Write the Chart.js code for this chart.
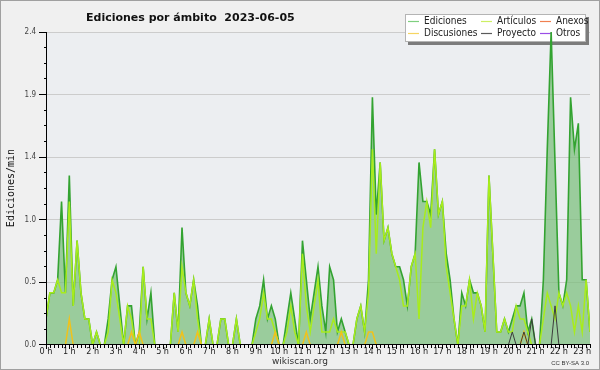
<!DOCTYPE html>
<html lang="es">
<head>
<meta charset="utf-8">
<title>Ediciones por ámbito 2023-06-05</title>
<script src="https://cdn.jsdelivr.net/npm/chart.js@4.4.0/dist/chart.umd.min.js"></script>
<style>
  html, body { margin: 0; padding: 0; background: #f0f0f0; }
  #wrap { width: 600px; height: 370px; }
</style>
</head>
<body>
<div id="wrap"><canvas id="chart" width="600" height="370"></canvas></div>
<script>
// Edits per minute, one value every 10 minutes (00:00 .. 23:20)
const ediciones = [
    0.2, 0.4, 0.4, 0.5, 1.1, 0.4, 1.3, 0.3, 0.8, 0.4, 0.2, 0.2,
    0, 0.1, 0, 0, 0.2, 0.5, 0.6, 0.3, 0, 0.3, 0.3, 0,
    0.1, 0.6, 0.2, 0.4, 0, 0, 0, 0, 0, 0.4, 0.1, 0.9,
    0.4, 0.3, 0.5, 0.3, 0, 0, 0.2, 0, 0, 0.2, 0.2, 0,
    0, 0.2, 0, 0, 0, 0, 0.2, 0.3, 0.5, 0.2, 0.3, 0.2,
    0, 0, 0.2, 0.4, 0.2, 0, 0.8, 0.5, 0.2, 0.4, 0.6, 0.3,
    0.1, 0.6, 0.5, 0.1, 0.2, 0.1, 0, 0, 0.2, 0.3, 0.1, 0.5,
    1.9, 1.0, 1.4, 0.8, 0.9, 0.7, 0.6, 0.6, 0.5, 0.3, 0.6, 0.7,
    1.4, 1.1, 1.1, 1.0, 1.5, 1.0, 1.1, 0.7, 0.5, 0.2, 0, 0.4,
    0.3, 0.5, 0.4, 0.4, 0.3, 0.1, 1.3, 0.7, 0.1, 0.1, 0.2, 0.1,
    0.2, 0.3, 0.3, 0.4, 0.1, 0.2, 0, 0, 0.5, 1.5, 2.4, 1.4,
    0.4, 0.3, 0.5, 1.9, 1.5, 1.7, 0.5, 0.5, 0.1
];
const articulos = [
    0.2, 0.4, 0.4, 0.5, 0.4, 0.4, 1.1, 0.3, 0.8, 0.4, 0.2, 0.2,
    0, 0.1, 0, 0, 0.1, 0.5, 0.4, 0.2, 0, 0.3, 0.2, 0,
    0, 0.6, 0.2, 0.2, 0, 0, 0, 0, 0, 0.4, 0.1, 0.6,
    0.4, 0.3, 0.5, 0.2, 0, 0, 0.2, 0, 0, 0.2, 0.2, 0,
    0, 0.2, 0, 0, 0, 0, 0.1, 0.2, 0.4, 0.2, 0.2, 0.1,
    0, 0, 0.1, 0.3, 0.1, 0, 0.7, 0.3, 0.1, 0.3, 0.5, 0.1,
    0.1, 0.1, 0.2, 0.1, 0.1, 0.1, 0, 0, 0.2, 0.3, 0.1, 0.4,
    1.5, 0.7, 1.4, 0.8, 0.9, 0.7, 0.6, 0.5, 0.3, 0.3, 0.6, 0.7,
    0.2, 0.9, 1.1, 0.9, 1.5, 1.0, 1.1, 0.6, 0.4, 0.2, 0, 0.3,
    0.3, 0.5, 0.2, 0.4, 0.3, 0.1, 1.3, 0.7, 0.1, 0.1, 0.2, 0.1,
    0.1, 0.3, 0.2, 0.2, 0.1, 0, 0, 0, 0.2, 0.4, 0.3, 0.2,
    0.4, 0.3, 0.4, 0.3, 0.1, 0.3, 0.1, 0.5, 0.1
];
const anexos = [
    0, 0, 0, 0, 0, 0, 0, 0, 0, 0, 0, 0,
    0, 0, 0, 0, 0, 0, 0, 0, 0, 0, 0, 0,
    0, 0, 0, 0, 0, 0, 0, 0, 0, 0, 0, 0,
    0, 0, 0, 0, 0, 0, 0, 0, 0, 0, 0, 0,
    0, 0, 0, 0, 0, 0, 0, 0, 0, 0, 0, 0,
    0, 0, 0, 0, 0, 0, 0, 0, 0, 0, 0, 0,
    0, 0, 0, 0, 0, 0, 0, 0, 0, 0, 0, 0,
    0, 0, 0, 0, 0, 0, 0, 0, 0, 0, 0, 0,
    0, 0, 0, 0, 0, 0, 0, 0, 0, 0, 0, 0,
    0, 0, 0, 0, 0, 0, 0, 0, 0, 0, 0, 0,
    0, 0, 0, 0, 0, 0, 0, 0, 0, 0, 0, 0,
    0, 0, 0, 0, 0, 0, 0, 0, 0
];
const discusiones = [
    0, 0, 0, 0, 0, 0, 0.2, 0, 0, 0, 0, 0,
    0, 0, 0, 0, 0, 0, 0, 0, 0, 0, 0.1, 0,
    0.1, 0, 0, 0, 0, 0, 0, 0, 0, 0, 0, 0.1,
    0, 0, 0, 0.1, 0, 0, 0, 0, 0, 0, 0, 0,
    0, 0, 0, 0, 0, 0, 0, 0, 0, 0, 0, 0.1,
    0, 0, 0, 0, 0, 0, 0, 0.1, 0, 0, 0, 0,
    0, 0, 0, 0, 0.1, 0, 0, 0, 0, 0, 0, 0.1,
    0.1, 0, 0, 0, 0, 0, 0, 0, 0, 0, 0, 0,
    0, 0, 0, 0, 0, 0, 0, 0, 0, 0, 0, 0,
    0, 0, 0, 0, 0, 0, 0, 0, 0, 0, 0, 0,
    0, 0, 0, 0.1, 0, 0, 0, 0, 0, 0, 0, 0,
    0, 0, 0, 0, 0, 0, 0, 0, 0
];
const proyecto = [
    0, 0, 0, 0, 0, 0, 0, 0, 0, 0, 0, 0,
    0, 0, 0, 0, 0, 0, 0, 0, 0, 0, 0, 0,
    0, 0, 0, 0, 0, 0, 0, 0, 0, 0, 0, 0,
    0, 0, 0, 0, 0, 0, 0, 0, 0, 0, 0, 0,
    0, 0, 0, 0, 0, 0, 0, 0, 0, 0, 0, 0,
    0, 0, 0, 0, 0, 0, 0, 0, 0, 0, 0, 0,
    0, 0, 0, 0, 0, 0, 0, 0, 0, 0, 0, 0,
    0, 0, 0, 0, 0, 0, 0, 0, 0, 0, 0, 0,
    0, 0, 0, 0, 0, 0, 0, 0, 0, 0, 0, 0,
    0, 0, 0, 0, 0, 0, 0, 0, 0, 0, 0, 0,
    0.1, 0, 0, 0.1, 0, 0.2, 0, 0, 0, 0, 0, 0.3,
    0, 0, 0, 0, 0, 0, 0, 0, 0
];
const otros = [
    0, 0, 0, 0, 0, 0, 0, 0, 0, 0, 0, 0,
    0, 0, 0, 0, 0, 0, 0, 0, 0, 0, 0, 0,
    0, 0, 0, 0, 0, 0, 0, 0, 0, 0, 0, 0,
    0, 0, 0, 0, 0, 0, 0, 0, 0, 0, 0, 0,
    0, 0, 0, 0, 0, 0, 0, 0, 0, 0, 0, 0,
    0, 0, 0, 0, 0, 0, 0, 0, 0, 0, 0, 0,
    0, 0, 0, 0, 0, 0, 0, 0, 0, 0, 0, 0,
    0, 0, 0, 0, 0, 0, 0, 0, 0, 0, 0, 0,
    0, 0, 0, 0, 0, 0, 0, 0, 0, 0, 0, 0,
    0, 0, 0, 0, 0, 0, 0, 0, 0, 0, 0, 0,
    0, 0, 0, 0, 0, 0, 0, 0, 0, 0, 0, 0,
    0, 0, 0, 0, 0, 0, 0, 0, 0
];

// Axis labels
const hourLabels = [
    '0 h', '1 h', '2 h', '3 h', '4 h', '5 h', '6 h', '7 h', '8 h', '9 h', '10 h', '11 h',
    '12 h', '13 h', '14 h', '15 h', '16 h', '17 h', '18 h', '19 h', '20 h', '21 h', '22 h', '23 h'
];
const yTickLabels = ['0.0', '0.5', '1.0', '1.4', '1.9', '2.4'];

const chartTitle = 'Ediciones por ámbito  2023-06-05';
const yTitle = 'Ediciones/min';
const slotMinutes = 10;
const lastMinute = 1400;

// Turn a series into {x: minute, y: value} points
function toPoints(values) {
    return values.map((v, i) => ({ x: i * slotMinutes, y: v }));
}

// Background, plot area and frame
const backdrop = {
    id: 'backdrop',
    beforeDraw(chart) {
        const { ctx, chartArea: a } = chart;
        ctx.save();
        ctx.fillStyle = '#f0f0f0';
        ctx.fillRect(0, 0, chart.width, chart.height);
        ctx.fillStyle = '#eceef1';
        ctx.fillRect(a.left, a.top, a.right - a.left, a.bottom - a.top);
        ctx.strokeStyle = '#a0a0a0';
        ctx.lineWidth = 1;
        ctx.strokeRect(0.5, 0.5, chart.width - 1, chart.height - 1);
        ctx.restore();
    }
};

// Boxed legend, 3 columns x 2 rows, drawn under the data
const legendBox = {
    id: 'legendBox',
    beforeDatasetsDraw(chart) {
        const ctx = chart.ctx;
        const bx = 405, by = 14, bw = 181, bh = 28;
        ctx.save();
        ctx.fillStyle = '#7c7c7c';
        ctx.fillRect(bx + 3, by + 3, bw, bh);
        ctx.fillStyle = '#ffffff';
        ctx.fillRect(bx, by, bw, bh);
        ctx.strokeStyle = '#b4b4b4';
        ctx.lineWidth = 1;
        ctx.strokeRect(bx + 0.5, by + 0.5, bw - 1, bh - 1);
        ctx.font = '10px "DejaVu Sans Condensed", "Liberation Sans", sans-serif';
        ctx.textBaseline = 'middle';
        const colX = [408, 481, 540];
        const rowY = [21.5, 33.5];
        chart.data.datasets.forEach((ds, k) => {
            const cx = colX[k % 3];
            const cy = rowY[Math.floor(k / 3)];
            ctx.strokeStyle = ds.legendColor;
            ctx.lineWidth = 1.2;
            ctx.beginPath();
            ctx.moveTo(cx, cy);
            ctx.lineTo(cx + 11, cy);
            ctx.stroke();
            ctx.fillStyle = '#222222';
            ctx.fillText(ds.label, cx + 16, cy);
        });
        ctx.restore();
    }
};

// Axis lines and tick marks, drawn over the data
const axisTicks = {
    id: 'axisTicks',
    afterDatasetsDraw(chart) {
        const { ctx, chartArea: a, scales: { x, y } } = chart;
        ctx.save();
        ctx.strokeStyle = '#000000';
        ctx.lineWidth = 1;
        ctx.beginPath();
        ctx.moveTo(a.left + 0.5, a.top);
        ctx.lineTo(a.left + 0.5, a.bottom);
        ctx.moveTo(a.left, a.bottom - 0.5);
        ctx.lineTo(a.right, a.bottom - 0.5);
        y.ticks.forEach((t, i) => {
            const py = i === 0 ? a.bottom - 0.5 : Math.round(y.getPixelForValue(t.value) - 0.5) + 0.5;
            const len = i % 4 === 0 ? 8 : 3;
            ctx.moveTo(a.left + 1 - len, py);
            ctx.lineTo(a.left + 1, py);
        });
        x.ticks.forEach((t, i) => {
            const px = Math.round(x.getPixelForValue(t.value)) + 0.5;
            const len = i % 6 === 0 ? 4 : 3;
            ctx.moveTo(px, a.bottom - 1);
            ctx.lineTo(px, a.bottom + len);
        });
        ctx.stroke();
        ctx.restore();
    }
};

// Title, axis title and footer texts
const captions = {
    id: 'captions',
    afterDraw(chart) {
        const ctx = chart.ctx;
        ctx.save();
        ctx.fillStyle = '#111111';
        ctx.font = 'bold 11px "DejaVu Sans", sans-serif';
        ctx.textAlign = 'left';
        ctx.textBaseline = 'alphabetic';
        ctx.fillText(chartTitle, 86, 21);

        ctx.font = '9px "DejaVu Sans", sans-serif';
        ctx.fillStyle = '#333333';
        ctx.textAlign = 'center';
        ctx.fillText('wikiscan.org', 300, 364);

        ctx.font = '6px "Liberation Sans", sans-serif';
        ctx.textAlign = 'right';
        ctx.fillText('CC BY-SA 3.0', 589, 365);

        ctx.translate(11, 188);
        ctx.rotate(-Math.PI / 2);
        ctx.font = '10px "DejaVu Sans Mono", monospace';
        ctx.fillStyle = '#111111';
        ctx.textAlign = 'center';
        ctx.textBaseline = 'middle';
        ctx.fillText(yTitle, 0, 0);
        ctx.restore();
    }
};

function initializeChart() {
    const ctx = document.getElementById('chart').getContext('2d');

    return new Chart(ctx, {
        type: 'line',
        data: {
            datasets: [
                {
                    label: 'Ediciones',
                    data: toPoints(ediciones),
                    borderColor: '#33a331',
                    backgroundColor: 'rgba(120, 190, 120, 0.7)',
                    legendColor: '#7fcf7f',
                    borderWidth: 1.6,
                    fill: 'origin',
                    order: 6
                },
                {
                    label: 'Artículos',
                    data: toPoints(articulos),
                    borderColor: '#a8ec1c',
                    legendColor: '#cdef63',
                    borderWidth: 1.5,
                    fill: false,
                    order: 5
                },
                {
                    label: 'Anexos',
                    data: toPoints(anexos),
                    borderColor: '#f07a48',
                    legendColor: '#f08050',
                    borderWidth: 1,
                    fill: false,
                    order: 4
                },
                {
                    label: 'Discusiones',
                    data: toPoints(discusiones),
                    borderColor: '#f0c21c',
                    legendColor: '#f6d562',
                    borderWidth: 1.5,
                    fill: false,
                    order: 3
                },
                {
                    label: 'Proyecto',
                    data: toPoints(proyecto),
                    borderColor: '#3c3c3c',
                    legendColor: '#5a5a5a',
                    borderWidth: 1,
                    fill: false,
                    order: 2
                },
                {
                    label: 'Otros',
                    data: toPoints(otros),
                    borderColor: '#9a4ee6',
                    legendColor: '#9a4ee6',
                    borderWidth: 1,
                    fill: false,
                    order: 1
                }
            ]
        },
        options: {
            responsive: false,
            devicePixelRatio: 1,
            animation: false,
            layout: {
                padding: { top: 32, right: 10, bottom: 0, left: 0 }
            },
            elements: {
                point: { radius: 0 },
                line: { tension: 0 }
            },
            datasets: {
                line: { clip: { left: 0, top: 6, right: 0, bottom: 0 } }
            },
            plugins: {
                legend: { display: false },
                tooltip: { enabled: false }
            },
            scales: {
                x: {
                    type: 'linear',
                    min: 0,
                    max: lastMinute,
                    afterFit: (scale) => { scale.height = 25; },
                    afterBuildTicks: (scale) => {
                        const ticks = [];
                        for (let m = 0; m <= lastMinute; m += slotMinutes) {
                            ticks.push({ value: m });
                        }
                        scale.ticks = ticks;
                    },
                    grid: { display: false, drawTicks: false },
                    border: { display: false },
                    ticks: {
                        autoSkip: false,
                        maxRotation: 0,
                        padding: 1,
                        color: '#222222',
                        font: { family: '"DejaVu Sans Condensed", "Liberation Sans", sans-serif', size: 9 },
                        callback: (value) => value % 60 === 0 ? hourLabels[value / 60] : ''
                    }
                },
                y: {
                    min: 0,
                    max: 2.4,
                    afterFit: (scale) => { scale.width = 46; },
                    afterBuildTicks: (scale) => {
                        const ticks = [];
                        for (let k = 0; k <= 20; k++) {
                            ticks.push({ value: k * 0.12 });
                        }
                        scale.ticks = ticks;
                    },
                    grid: {
                        drawTicks: false,
                        color: (c) => (c.index % 4 === 0 && c.index > 0) ? '#cccccc' : 'rgba(0,0,0,0)'
                    },
                    border: { display: false },
                    ticks: {
                        autoSkip: false,
                        padding: 10,
                        color: '#444444',
                        font: { family: '"DejaVu Sans Condensed", "Liberation Sans", sans-serif', size: 8 },
                        callback: (value, index) => index % 4 === 0 ? yTickLabels[index / 4] : ''
                    }
                }
            }
        },
        plugins: [backdrop, legendBox, axisTicks, captions]
    });
}

window.addEventListener('load', () => {
    initializeChart();
});
</script>
</body>
</html>
